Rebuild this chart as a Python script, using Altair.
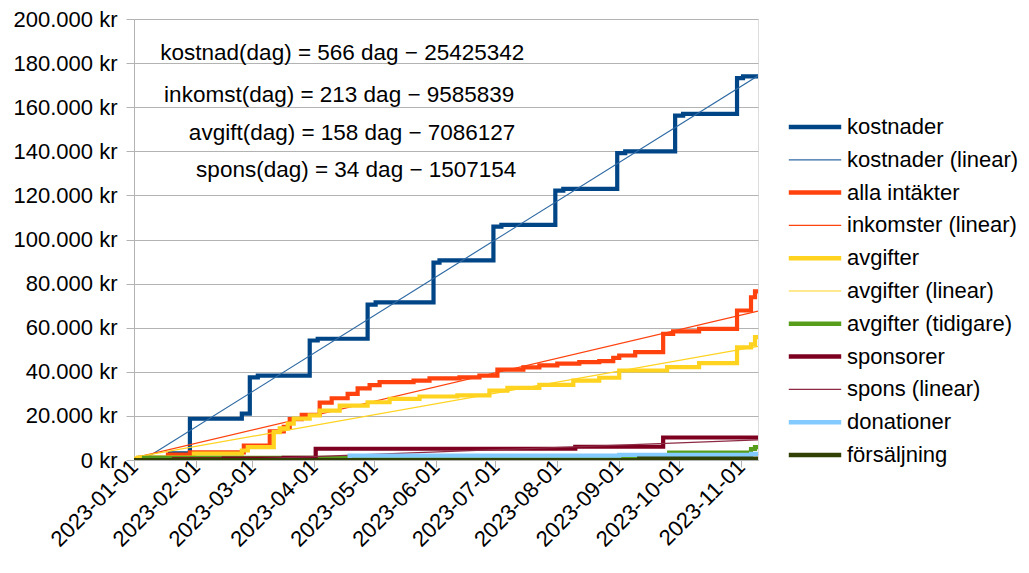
import altair as alt
import pandas as pd

# ---------------- data ----------------
series_names = [
    "kostnader", "kostnader (linear)", "alla intäkter", "inkomster (linear)",
    "avgifter", "avgifter (linear)", "avgifter (tidigare)", "sponsorer",
    "spons (linear)", "donationer", "försäljning",
]
series_colors = ["#004586", "#2f6aa3", "#ff420e", "#ff420e", "#ffd320", "#ffd320",
                 "#579d1c", "#7e0021", "#8c2a43", "#83caff", "#314004"]
thin_series = ["kostnader (linear)", "inkomster (linear)", "avgifter (linear)", "spons (linear)"]

END = "2023-11-09T12:00"

kostnader_dates = ["2023-01-01", "2023-01-04", "2023-01-19", "2023-01-29", "2023-02-24",
                   "2023-02-28", "2023-03-04", "2023-03-30", "2023-04-03", "2023-04-28",
                   "2023-05-02", "2023-05-31", "2023-06-03", "2023-06-30", "2023-07-04",
                   "2023-07-31", "2023-08-04", "2023-08-31", "2023-09-04", "2023-09-29",
                   "2023-10-03", "2023-10-30", "2023-11-02", END]
kostnader_values = [0, 1000, 3000, 18700, 21000, 37500, 38300, 54200, 55000, 70500,
                    71500, 89500, 90500, 105800, 106600, 122200, 123000, 139200, 140000,
                    156200, 157000, 173200, 174000, 174000]

intakter_dates = ["2023-01-01", "2023-01-04", "2023-01-18", "2023-01-29", "2023-02-25",
                  "2023-03-10", "2023-03-17", "2023-03-20", "2023-03-26", "2023-04-04",
                  "2023-04-10", "2023-04-18", "2023-04-23", "2023-04-29", "2023-05-04",
                  "2023-05-21", "2023-05-29", "2023-06-13", "2023-06-23", "2023-07-02",
                  "2023-07-15", "2023-07-23", "2023-08-01", "2023-08-12", "2023-08-22",
                  "2023-08-29", "2023-09-01", "2023-09-09", "2023-09-23", "2023-09-28",
                  "2023-10-11", "2023-10-30", "2023-11-06", "2023-11-08", END]
intakter_values = [0, 1000, 2500, 3500, 6500, 13000, 15000, 18500, 20500, 26000,
                   28000, 30000, 32500, 34000, 35300, 36000, 37000, 37500, 38300, 41000,
                   42000, 42900, 43700, 44400, 44800, 46300, 47400, 48900, 57200, 58300,
                   59500, 67800, 73800, 76500, 76500]

avgifter_dates = ["2023-01-01", "2023-01-03", "2023-01-31", "2023-02-24", "2023-02-27",
                  "2023-03-12", "2023-03-15", "2023-03-19", "2023-03-22", "2023-03-30",
                  "2023-04-04", "2023-04-14", "2023-04-28", "2023-05-09", "2023-05-24",
                  "2023-06-12", "2023-06-28", "2023-07-07", "2023-07-23", "2023-08-09",
                  "2023-08-22", "2023-09-01", "2023-09-25", "2023-10-11", "2023-10-30",
                  "2023-11-06", "2023-11-08", END]
avgifter_values = [0, 1100, 2900, 4300, 5800, 12600, 14300, 16500, 18800, 20200,
                   22400, 24700, 26200, 27700, 28800, 29300, 31500, 32700, 34100, 36000,
                   37300, 40600, 42100, 43900, 51100, 52400, 55700, 55700]

tidigare_dates = ["2023-01-01", "2023-01-06", "2023-09-26", "2023-11-06", "2023-11-08", END]
tidigare_values = [0, 1000, 3400, 5000, 5800, 5800]

sponsorer_dates = ["2023-01-01", "2023-01-21", "2023-02-15", "2023-03-17", "2023-04-02",
                   "2023-08-10", "2023-09-23", END]
sponsorer_values = [0, 300, 600, 1000, 5100, 6000, 10200, 10200]

donationer_dates = ["2023-01-01", "2023-04-19", "2023-09-01", "2023-11-06", END]
donationer_values = [0, 2000, 2300, 2800, 2800]

forsaljning_dates = ["2023-01-01", "2023-09-11", END]
forsaljning_values = [0, 600, 600]

# trend lines (start / end)
kostnader_lin_dates = ["2023-01-05T12:00", END]
kostnader_lin_values = [0, 174300]
inkomster_lin_dates = ["2023-01-01", END]
inkomster_lin_values = [1000, 67500]
avgifter_lin_dates = ["2023-01-01", END]
avgifter_lin_values = [1200, 51500]
spons_lin_dates = ["2023-02-14", END]
spons_lin_values = [0, 9100]

eq_texts = ["kostnad(dag) = 566 dag − 25425342", "inkomst(dag) = 213 dag − 9585839",
            "avgift(dag) = 158 dag − 7086127", "spons(dag) = 34 dag − 1507154"]
eq_dates = ["2023-07-15T12:00", "2023-07-10T12:00", "2023-07-11", "2023-07-11T12:00"]
eq_values = [184800, 165700, 148500, 131300]

y_ticks = [0, 20000, 40000, 60000, 80000, 100000, 120000, 140000, 160000, 180000, 200000]

# ---------------- build table ----------------
series_data = {
    "kostnader": (kostnader_dates, kostnader_values),
    "kostnader (linear)": (kostnader_lin_dates, kostnader_lin_values),
    "alla intäkter": (intakter_dates, intakter_values),
    "inkomster (linear)": (inkomster_lin_dates, inkomster_lin_values),
    "avgifter": (avgifter_dates, avgifter_values),
    "avgifter (linear)": (avgifter_lin_dates, avgifter_lin_values),
    "avgifter (tidigare)": (tidigare_dates, tidigare_values),
    "sponsorer": (sponsorer_dates, sponsorer_values),
    "spons (linear)": (spons_lin_dates, spons_lin_values),
    "donationer": (donationer_dates, donationer_values),
    "försäljning": (forsaljning_dates, forsaljning_values),
}


def fix(d):
    return d if "T" in d else d + "T00:00"


rows = []
for name in series_names:
    ds, vs = series_data[name]
    for d, v in zip(ds, vs):
        rows.append({"series": name, "date": fix(d), "value": v})
df = pd.DataFrame(rows)

eq_df = pd.DataFrame({"text": eq_texts, "date": [fix(d) for d in eq_dates], "value": eq_values})

FONT = "Liberation Sans"

x_scale = alt.Scale(domain=[alt.DateTime(year=2023, month=1, date=1),
                            alt.DateTime(year=2023, month=11, date=9, hours=12)], nice=False)
y_scale = alt.Scale(domain=[0, 200000], nice=False)

x_axis = alt.Axis(
    values=[alt.DateTime(year=2023, month=m, date=1) for m in range(1, 12)],
    format="%Y-%m-%d", labelAngle=-45, labelAlign="right", labelBaseline="middle",
    labelFontSize=22, labelFont=FONT, labelOverlap=False,
    labelColor="#000000", grid=False, tickColor="#b3b3b3", domainColor="#b3b3b3",
    tickSize=7, title=None, labelPadding=-4,
)
y_axis = alt.Axis(
    values=y_ticks, labelExpr="replace(format(datum.value, ','), ',', '.') + ' kr'",
    labelFontSize=22, labelFont=FONT, labelColor="#000000", grid=True,
    gridColor="#b3b3b3", tickColor="#b3b3b3", domainColor="#b3b3b3", tickSize=8,
    labelPadding=9, title=None,
)

thin_list = "[" + ",".join("'" + s + "'" for s in thin_series) + "]"
legend = alt.Legend(
    orient="none", legendX=670, legendY=97, title=None, symbolType="stroke",
    symbolSize=2750, labelFontSize=22, labelFont=FONT, labelColor="#000000",
    rowPadding=10.8, labelOffset=21, labelLimit=400,
    symbolStrokeWidth=alt.ExprRef(expr=f"indexof({thin_list}, datum.value) >= 0 ? 1.2 : 4.5"),
)

color = alt.Color("series:N", scale=alt.Scale(domain=series_names, range=series_colors),
                  legend=legend, sort=series_names)

base = alt.Chart(df)
layers = []
for name in series_names:
    is_thin = name in thin_series
    mark = base.transform_filter(alt.datum.series == name).mark_line(
        interpolate="linear" if is_thin else "step-after", clip=True)
    layers.append(mark.encode(
        x=alt.X("date:T", scale=x_scale, axis=x_axis),
        y=alt.Y("value:Q", scale=y_scale, axis=y_axis),
        color=color,
        strokeWidth=alt.value(1.2 if is_thin else 4.2),
    ))

texts = alt.Chart(eq_df).mark_text(align="right", baseline="middle", fontSize=22.5,
                                   font=FONT, color="#000000").encode(
    x=alt.X("date:T", scale=x_scale), y=alt.Y("value:Q", scale=y_scale), text="text:N")

chart = alt.layer(*layers, texts).properties(
    width=624, height=441,
    padding={"left": 5, "top": 0, "right": 0, "bottom": 5},
).configure_view(stroke="#b3b3b3", strokeWidth=1).configure(background="white")

chart.save("out.html", embed_options={"renderer": "svg", "actions": False})
